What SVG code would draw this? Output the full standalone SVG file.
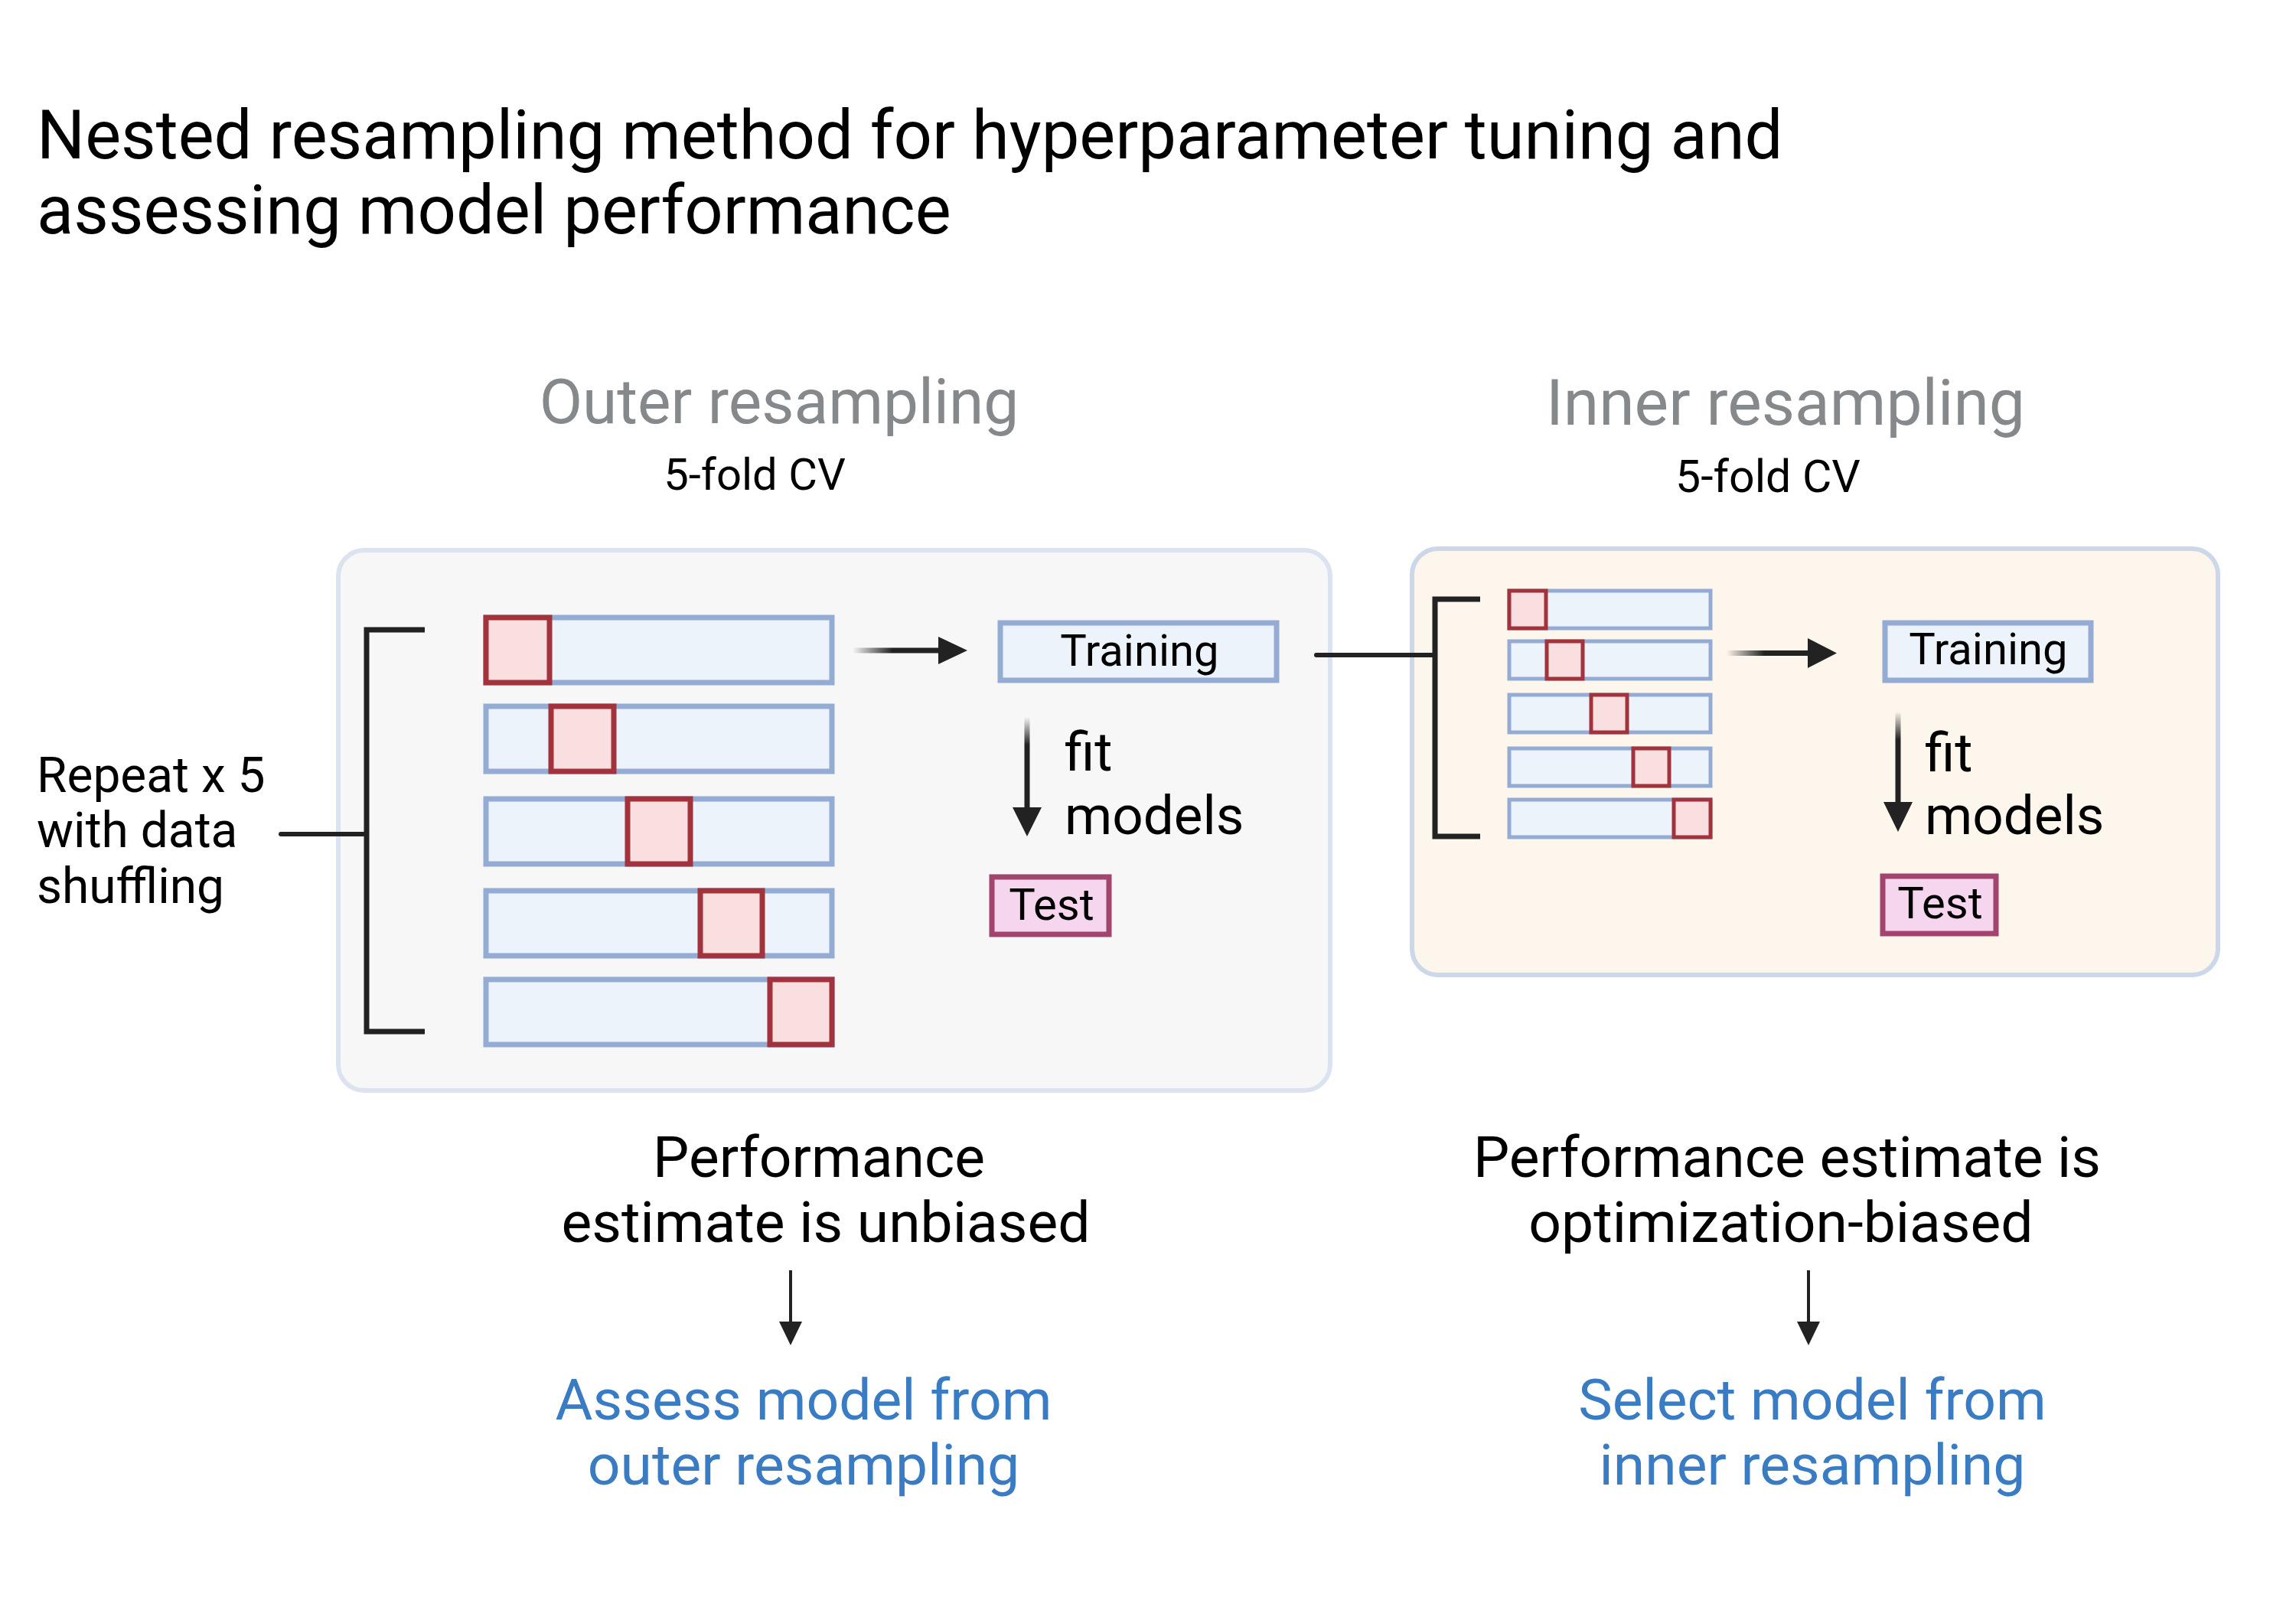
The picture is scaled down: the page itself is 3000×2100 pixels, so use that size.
<svg xmlns="http://www.w3.org/2000/svg" width="3000" height="2100" viewBox="0 0 3000 2100">
<style>
text{font-family:Roboto,"Liberation Sans",sans-serif;fill:#000}
.title{font-size:88.5px}
.head{font-size:82px;fill:#86898c;text-anchor:middle}
.sub{font-size:58px;text-anchor:middle}
.lbl{font-size:64px}
.box{font-size:58px;text-anchor:middle}
.fit{font-size:71px}
.perf{font-size:75px;text-anchor:middle}
.blue{font-size:75px;fill:#3a7cc4;text-anchor:middle}
.bar{fill:#edf3fb;stroke:#94abd4;stroke-width:7}
.ibar{fill:#edf3fb;stroke:#94abd4;stroke-width:5}
.fold{fill:#f9dfe0;stroke:#a2323b;stroke-width:7}
.ifold{fill:#f9dfe0;stroke:#a2323b;stroke-width:5}
.test{fill:#f6d5ee;stroke:#a3446f;stroke-width:7}
.ln{stroke:#222;stroke-width:7;fill:none}
.head2{fill:#222}
</style>
<defs>
<linearGradient id="gh" x1="0" y1="0" x2="1" y2="0">
<stop offset="0" stop-color="#222" stop-opacity="0"/>
<stop offset="0.45" stop-color="#222" stop-opacity="1"/>
<stop offset="1" stop-color="#222"/>
</linearGradient>
<linearGradient id="gv" x1="0" y1="0" x2="0" y2="1">
<stop offset="0" stop-color="#222" stop-opacity="0"/>
<stop offset="0.3" stop-color="#222" stop-opacity="1"/>
<stop offset="1" stop-color="#222"/>
</linearGradient>
</defs>
<rect width="3000" height="2100" fill="#fff"/>

<g id="title">
<text class="title" x="48" y="207">Nested resampling method for hyperparameter tuning and</text>
<text class="title" x="48" y="305">assessing model performance</text>
</g>

<g id="outer-heading">
<text class="head" x="1018" y="553">Outer resampling</text>
<text class="sub" x="986" y="640">5-fold CV</text>
</g>
<g id="inner-heading">
<text class="head" x="2333" y="555" style="font-size:84px">Inner resampling</text>
<text class="sub" x="2310" y="643" style="font-size:59px">5-fold CV</text>
</g>

<g id="outer-panel">
<rect x="442" y="719" width="1296" height="706" rx="34" fill="#f7f7f7" stroke="#dce3f0" stroke-width="6"/>
<rect class="bar" x="635" y="807" width="452" height="85"/>
<rect class="fold" x="635" y="807" width="83" height="85"/>
<rect class="bar" x="635" y="923" width="452" height="85"/>
<rect class="fold" x="720" y="923" width="82" height="85"/>
<rect class="bar" x="635" y="1044" width="452" height="85"/>
<rect class="fold" x="820" y="1044" width="82" height="85"/>
<rect class="bar" x="635" y="1164" width="452" height="85"/>
<rect class="fold" x="915" y="1164" width="81" height="85"/>
<rect class="bar" x="635" y="1280" width="452" height="85"/>
<rect class="fold" x="1006" y="1280" width="81" height="85"/>
<path class="ln" d="M555 823 H479 V1348 H555"/>
</g>

<g id="outer-training">
<rect class="bar" x="1307" y="814" width="361" height="75"/>
<text class="box" x="1489" y="870">Training</text>
</g>
<g id="outer-fit">
<text class="fit" x="1391" y="1007">fit</text>
<text class="fit" x="1391" y="1090">models</text>
</g>
<g id="outer-test">
<rect class="test" x="1296" y="1146" width="153" height="75"/>
<text class="box" x="1374" y="1202">Test</text>
</g>

<g id="inner-panel">
<rect x="1845" y="717" width="1053" height="557" rx="34" fill="#fdf6ec" stroke="#cdd7ea" stroke-width="6"/>
<rect class="ibar" x="1972" y="772" width="263" height="49"/>
<rect class="ifold" x="1972" y="772" width="48" height="49"/>
<rect class="ibar" x="1972" y="838" width="263" height="49"/>
<rect class="ifold" x="2021" y="838" width="47" height="49"/>
<rect class="ibar" x="1972" y="908" width="263" height="49"/>
<rect class="ifold" x="2079" y="908" width="47" height="49"/>
<rect class="ibar" x="1972" y="978" width="263" height="49"/>
<rect class="ifold" x="2134" y="978" width="47" height="49"/>
<rect class="ibar" x="1972" y="1045" width="263" height="49"/>
<rect class="ifold" x="2187" y="1045" width="48" height="49"/>
<path class="ln" d="M1934 783 H1875 V1093 H1934"/>
</g>

<g id="inner-training">
<rect class="bar" x="2463" y="814" width="269" height="75"/>
<text class="box" x="2598" y="868">Training</text>
</g>
<g id="inner-fit">
<text class="fit" x="2515" y="1008">fit</text>
<text class="fit" x="2515" y="1090">models</text>
</g>
<g id="inner-test">
<rect class="test" x="2460" y="1145" width="148" height="75"/>
<text class="box" x="2535" y="1200">Test</text>
</g>

<g id="repeat-label">
<text class="lbl" x="48" y="1035">Repeat x 5</text>
<text class="lbl" x="48" y="1107">with data</text>
<text class="lbl" x="48" y="1180">shuffling</text>
</g>

<g id="outer-result">
<text class="perf" x="1070" y="1538">Performance</text>
<text class="perf" x="1079" y="1623">estimate is unbiased</text>
</g>
<g id="outer-action">
<text class="blue" x="1050" y="1855">Assess model from</text>
<text class="blue" x="1050" y="1940">outer resampling</text>
</g>
<g id="inner-result">
<text class="perf" x="2335" y="1538">Performance estimate is</text>
<text class="perf" x="2327" y="1623">optimization-biased</text>
</g>
<g id="inner-action">
<text class="blue" x="2368" y="1855">Select model from</text>
<text class="blue" x="2368" y="1940">inner resampling</text>
</g>

<g id="connectors">
<line x1="367" y1="1090" x2="479" y2="1090" stroke="#222" stroke-width="6" stroke-linecap="round"/>
<rect x="1114" y="846.5" width="116" height="7" fill="url(#gh)"/>
<polygon class="head2" points="1226,832 1264,850 1226,868"/>
<line x1="1720" y1="856" x2="1875" y2="856" stroke="#222" stroke-width="6" stroke-linecap="round"/>
<rect x="1338.5" y="937" width="7" height="122" fill="url(#gv)"/>
<polygon class="head2" points="1323,1055 1361,1055 1342,1093"/>
<rect x="2256" y="850" width="110" height="7" fill="url(#gh)"/>
<polygon class="head2" points="2362,834 2400,853.5 2362,873"/>
<rect x="2476.5" y="930" width="7" height="122" fill="url(#gv)"/>
<polygon class="head2" points="2461,1048 2499,1048 2480,1087"/>
<line x1="1033" y1="1660" x2="1033" y2="1730" stroke="#222" stroke-width="4"/>
<polygon class="head2" points="1018,1727 1048,1727 1033,1758"/>
<line x1="2363" y1="1660" x2="2363" y2="1730" stroke="#222" stroke-width="4"/>
<polygon class="head2" points="2348,1727 2378,1727 2363,1758"/>
</g>
</svg>
